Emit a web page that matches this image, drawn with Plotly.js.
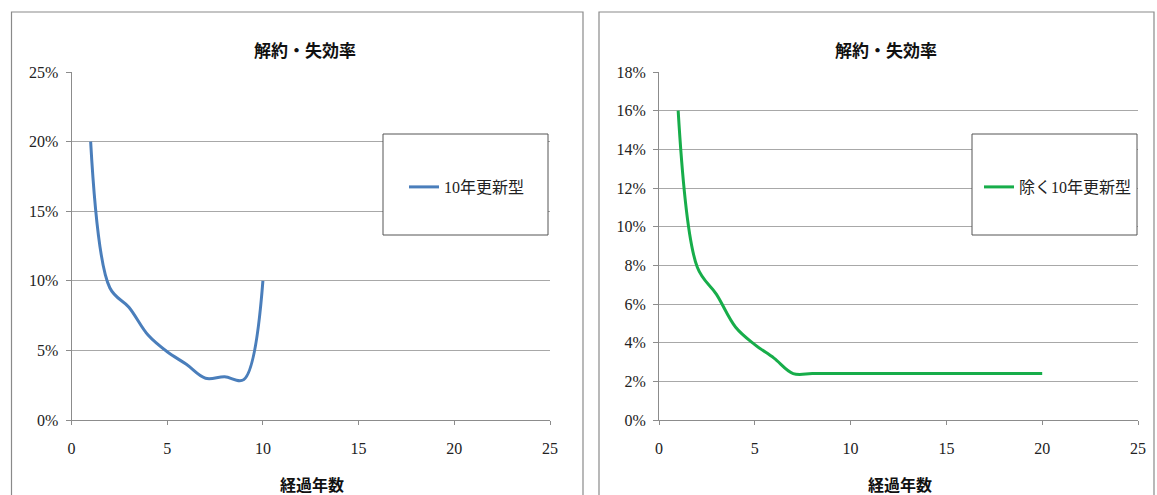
<!DOCTYPE html>
<html>
<head>
<meta charset="utf-8">
<script src="https://cdn.plot.ly/plotly-3.0.1.min.js"></script>
<style>
  html, body { margin: 0; padding: 0; background: #ffffff; }
  #chart { width: 1157px; height: 495px; }
</style>
</head>
<body>
<div id="chart"></div>
<script>
// Elapsed years and lapse/surrender rates
const yearsRenewal = [1, 2, 3, 4, 5, 6, 7, 8, 9, 10];
const rateRenewal = [0.200, 0.095, 0.081, 0.061, 0.049, 0.040, 0.030, 0.031, 0.029, 0.100];

const yearsOther = [1, 2, 3, 4, 5, 6, 7, 8, 9, 10, 11, 12, 13, 14, 15, 16, 17, 18, 19, 20];
const rateOther = [0.160, 0.079, 0.065, 0.048, 0.039, 0.032, 0.024, 0.024, 0.024, 0.024,
                   0.024, 0.024, 0.024, 0.024, 0.024, 0.024, 0.024, 0.024, 0.024, 0.024];

const seriesNames = ['10年更新型', '除く10年更新型'];
const chartTitle = '解約・失効率';
const xTitle = '経過年数';
const xTicks = [0, 5, 10, 15, 20, 25];

const W = 1157, H = 495;
const px = v => v / W;            // pixel x -> paper
const py = v => (H - v) / H;      // pixel y (from top) -> paper

const serif = 'Liberation Serif, Noto Sans CJK JP, serif';
const gothic = 'Noto Sans CJK JP, sans-serif';
const gridCol = '#a8a8a8';
const axisCol = '#8c8c8c';

function xAxis(domain, anchor) {
  return {
    domain: domain, anchor: anchor, range: [0, 25], tickvals: xTicks,
    showgrid: false, zeroline: false, showline: true, linecolor: axisCol, linewidth: 1,
    ticks: 'outside', ticklen: 4, tickcolor: axisCol, ticklabelstandoff: 10,
    tickfont: { family: serif, size: 16, color: '#222' }, fixedrange: true
  };
}
function yAxis(domain, anchor, top, step) {
  return {
    domain: domain, anchor: anchor, range: [0, top], dtick: step, tick0: 0,
    tickformat: '.0%', showgrid: true, gridcolor: gridCol, gridwidth: 1,
    zeroline: false, showline: true, linecolor: axisCol, linewidth: 1,
    ticks: 'outside', ticklen: 5, tickcolor: axisCol, ticklabelstandoff: 4,
    tickfont: { family: serif, size: 16, color: '#222' }, fixedrange: true
  };
}

const yDom = [py(420), py(72)];

const traces = [
  {
    x: yearsRenewal, y: rateRenewal, name: seriesNames[0], type: 'scatter', mode: 'lines',
    line: { color: '#4a7ebb', width: 3, shape: 'spline', smoothing: 1 },
    xaxis: 'x', yaxis: 'y', legend: 'legend', hoverinfo: 'x+y'
  },
  {
    x: yearsOther, y: rateOther, name: seriesNames[1], type: 'scatter', mode: 'lines',
    line: { color: '#17ad4a', width: 3, shape: 'spline', smoothing: 1 },
    xaxis: 'x2', yaxis: 'y2', legend: 'legend2', hoverinfo: 'x+y'
  }
];

const frame = (x0, x1) => ({
  type: 'rect', xref: 'paper', yref: 'paper', layer: 'below',
  x0: px(x0), x1: px(x1), y0: -0.2, y1: py(12),
  line: { color: '#8a8a8a', width: 1.2 }, fillcolor: 'rgba(0,0,0,0)'
});
const legendBox = (x0, x1) => ({
  type: 'rect', xref: 'paper', yref: 'paper', layer: 'above',
  x0: px(x0), x1: px(x1), y0: py(235), y1: py(134),
  line: { color: '#555555', width: 1 }, fillcolor: '#ffffff'
});

const legendFont = { family: serif, size: 16, color: '#222' };

const centred = (text, x, y, size) => ({
  text: '<b>' + text + '</b>', xref: 'paper', yref: 'paper', x: px(x), y: py(y),
  xanchor: 'center', yanchor: 'middle', showarrow: false,
  font: { family: gothic, size: size, color: '#111' }
});

const layout = {
  width: W, height: H,
  margin: { l: 0, r: 0, t: 0, b: 0 },
  paper_bgcolor: '#ffffff', plot_bgcolor: 'rgba(0,0,0,0)',
  xaxis: xAxis([px(71.5), px(550)], 'y'),
  yaxis: yAxis(yDom, 'x', 0.25, 0.05),
  xaxis2: xAxis([px(659), px(1138)], 'y2'),
  yaxis2: yAxis(yDom, 'x2', 0.18, 0.02),
  legend: {
    x: px(404), y: py(187), xanchor: 'left', yanchor: 'middle', xref: 'paper', yref: 'paper',
    bgcolor: 'rgba(0,0,0,0)', borderwidth: 0, font: legendFont, itemclick: false
  },
  legend2: {
    x: px(979), y: py(187), xanchor: 'left', yanchor: 'middle', xref: 'paper', yref: 'paper',
    bgcolor: 'rgba(0,0,0,0)', borderwidth: 0, font: legendFont, itemclick: false
  },
  shapes: [frame(11.5, 583), frame(599, 1154), legendBox(383, 548), legendBox(972, 1137)],
  annotations: [
    centred(chartTitle, 305, 50, 17),
    centred(chartTitle, 886, 50, 17),
    centred(xTitle, 312, 484, 16),
    centred(xTitle, 900, 484, 16)
  ],
  showlegend: true
};

Plotly.newPlot('chart', traces, layout, { displayModeBar: false, staticPlot: true });
</script>
</body>
</html>
